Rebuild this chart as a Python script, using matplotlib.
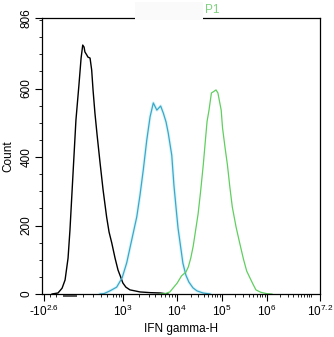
import matplotlib
matplotlib.use("Agg")
import numpy as np
import matplotlib.pyplot as plt
from matplotlib.patches import Rectangle
import matplotlib.transforms as mtransforms

plt.rcParams['font.family'] = ['Liberation Sans', 'DejaVu Sans']
plt.rcParams['mathtext.fontset'] = 'custom'
plt.rcParams['mathtext.rm'] = 'Liberation Sans'
plt.rcParams['mathtext.it'] = 'Liberation Sans'

# histogram traces, x in display channels (0..1024), y in events
ch_black = [37, 59, 74, 85, 96, 103, 114, 125, 136, 144, 150, 155, 158, 165, 169,
            177, 183, 188, 195, 203, 214, 225, 238, 247, 257, 269, 280, 291, 298,
            309, 324, 343, 361, 398, 435, 464]
cnt_black = [0, 3, 17, 41, 105, 187, 348, 508, 610, 689, 727, 721, 707, 698, 692,
             689, 654, 596, 528, 464, 382, 304, 225, 181, 149, 105, 70, 47, 32,
             20, 12, 9, 6, 4, 3, 0]

ch_cyan = [214, 228, 250, 275, 295, 312, 328, 349, 361, 373, 386, 398, 410, 423,
           437, 447, 457, 465, 478, 486, 494, 501, 519, 530, 541, 556, 571, 593, 619]
cnt_cyan = [0, 1, 9, 20, 47, 91, 149, 225, 289, 362, 450, 517, 558, 537, 549,
            528, 502, 470, 405, 317, 250, 193, 90, 55, 35, 18, 9, 3, 0]

ch_green = [435, 453, 471, 498, 514, 530, 539, 548, 557, 566, 575, 584, 594, 602,
            608, 615, 624, 632, 641, 648, 653, 660, 665, 674, 683, 692, 701, 715,
            729, 742, 754, 766, 777, 788, 806, 828, 847]
cnt_green = [0, 1, 6, 32, 53, 64, 79, 105, 140, 187, 234, 298, 377, 450, 504,
             536, 587, 591, 596, 587, 566, 537, 485, 429, 377, 312, 254, 195,
             146, 102, 67, 47, 29, 12, 5, 1, 0]

# axis scale: channel position of each labelled tick
tick_ch = [6, 297, 498, 662, 828, 1024]
tick_lbl = [r'-10$^{2.6}$', r'10$^{3}$', r'10$^{4}$', r'10$^{5}$', r'10$^{6}$', r'10$^{7.2}$']
decade_ch = {3: 297, 4: 498, 5: 662, 6: 828}

fig = plt.figure(figsize=(3.34, 3.37), dpi=100)
ax = fig.add_axes([42 / 334, 43 / 337, 278 / 334, 276 / 337])

ax.plot(ch_cyan, cnt_cyan, color='#def5fa', lw=2.4, solid_joinstyle='round')
ax.plot(ch_black, cnt_black, color='black', lw=1.0)
ax.plot(ch_cyan, cnt_cyan, color='#3aa8c8', lw=0.9)
ax.plot(ch_green, cnt_green, color='#5fcf5f', lw=0.9)

ax.set_xlim(0, 1024)
ax.set_ylim(0, 806)

# minor ticks: log spacing inside each decade
minors = []
for d in (3, 4, 5):
    lo, hi = decade_ch[d], decade_ch[d + 1]
    for m in range(2, 10):
        minors.append(lo + np.log10(m) * (hi - lo))
per_dec = (1024 - 828) / 1.2
for m in range(2, 11):
    minors.append(828 + np.log10(m) * per_dec)
minors += [29, 52, 152, 189, 216, 240, 260, 272, 282, 290]

ax.set_xticks(tick_ch)
ax.set_xticklabels(tick_lbl, fontsize=8.5)
ax.set_xticks(minors, minor=True)
ax.set_yticks([0, 200, 400, 600, 806])
ax.set_yticklabels(['0', '200', '400', '600', '806'], fontsize=8.5, rotation=90, va='center')
ax.set_yticks(np.arange(50, 806, 50), minor=True)
ax.tick_params(which='major', length=5, width=0.8, pad=2)
ax.tick_params(which='minor', length=2.5, width=0.6)
for s in ax.spines.values():
    s.set_linewidth(0.9)

# dense tick cluster around zero
trans = mtransforms.blended_transform_factory(ax.transData, ax.transAxes)
ax.add_patch(Rectangle((77, -0.012), 52, 0.011, transform=trans, color='#555555',
                       clip_on=False, lw=0))

ax.set_xlabel('IFN gamma-H', fontsize=8.5, labelpad=3)
ax.set_ylabel('Count', fontsize=8.5, labelpad=4)

fig.patches.append(Rectangle((135 / 334, 1 - 20 / 337), 68 / 334, 18 / 337,
                             transform=fig.transFigure, color='#fafafa', lw=0))
fig.text(212 / 334, 1 - 10 / 337, 'P1', color='#7fd07f', fontsize=8.5,
         ha='center', va='center')

fig.savefig('out.png', dpi=100)
